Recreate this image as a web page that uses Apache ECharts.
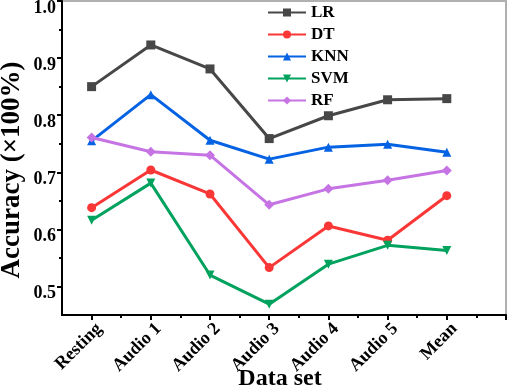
<!DOCTYPE html>
<html><head><meta charset="utf-8">
<script src="https://cdn.jsdelivr.net/npm/echarts@6/dist/echarts.min.js"></script>
<style>html,body{margin:0;padding:0;background:#fff}#c{width:512px;height:389px}</style>
</head><body><div id="c"></div>
<script>
const categories = ['Resting', 'Audio 1', 'Audio 2', 'Audio 3', 'Audio 4', 'Audio 5', 'Mean'];
const LR  = [0.850, 0.923, 0.881, 0.759, 0.799, 0.827, 0.829];
const DT  = [0.638, 0.704, 0.662, 0.533, 0.606, 0.581, 0.659];
const KNN = [0.755, 0.836, 0.756, 0.723, 0.744, 0.749, 0.735];
const SVM = [0.616, 0.681, 0.520, 0.469, 0.539, 0.572, 0.563];
const RF  = [0.761, 0.736, 0.730, 0.643, 0.671, 0.686, 0.703];
const yTicks = [0.5, 0.6, 0.7, 0.8, 0.9, 1.0];
const yMinor = [0.55, 0.65, 0.75, 0.85, 0.95];

const font = '"Liberation Serif", "Times New Roman", serif';
const xMajor = categories.map((c, i) => i + 1).concat([categories.length + 1]);
const xMinor = xMajor.map(v => v + 0.5).slice(0, -1);
const labelShift = 0.13;

function mk(name, vals, color, symbol, rotate) {
  return {
    name, type: 'line', data: vals.map((v, i) => [i + 1, v]),
    symbol, symbolSize: symbol === 'diamond' ? 10 : 9, symbolRotate: rotate || 0,
    lineStyle: { width: 3, color }, itemStyle: { color },
    xAxisIndex: 0, yAxisIndex: 0
  };
}

const chart = echarts.init(document.getElementById('c'));
chart.setOption({
  animation: false,
  grid: { left: 62, right: 6, top: 1, bottom: 74, show: true, borderColor: '#b0b0b0', borderWidth: 2, outerBoundsMode: 'none' },
  legend: {
    orient: 'vertical', left: 262, top: -1, itemWidth: 38, itemHeight: 10, itemGap: 5,
    textStyle: { fontFamily: font, fontWeight: 'bold', fontSize: 17, color: '#000' },
    data: ['LR', 'DT', 'KNN', 'SVM', 'RF']
  },
  xAxis: [{
    type: 'value', min: 0.5, max: 8,
    name: 'Data set', nameLocation: 'middle', nameGap: 52, nameMoveOverlap: false,
    nameTextStyle: { fontFamily: font, fontWeight: 'bold', fontSize: 24, color: '#000', padding: [0, 8, 0, 0] },
    axisLine: { lineStyle: { color: '#000', width: 2 } },
    axisTick: { customValues: xMajor, length: 5, lineStyle: { color: '#000', width: 2 } },
    axisLabel: {
      customValues: categories.map((c, i) => i + 1 + labelShift), rotate: 45, margin: 11,
      formatter: v => categories[Math.round(v) - 1] || '',
      fontFamily: font, fontWeight: 'bold', fontSize: 18, color: '#000'
    },
    splitLine: { show: false }
  }, {
    type: 'value', min: 0.5, max: 8, position: 'bottom',
    axisLine: { show: false },
    axisTick: { customValues: xMinor, length: 3, lineStyle: { color: '#000', width: 2 } },
    axisLabel: { show: false }, splitLine: { show: false }
  }],
  yAxis: [{
    type: 'value', min: 0.45, max: 1.0,
    name: 'Accuracy (×100%)', nameLocation: 'middle', nameGap: 36, nameMoveOverlap: false,
    nameTextStyle: { fontFamily: font, fontWeight: 'bold', fontSize: 27, color: '#000', padding: [0, 24, 0, 0] },
    axisLine: { lineStyle: { color: '#000', width: 2 } },
    axisTick: { customValues: yTicks, length: 5, lineStyle: { color: '#000', width: 2 } },
    axisLabel: {
      customValues: yTicks, margin: 6, verticalAlign: 'top', lineHeight: 14,
      formatter: v => v.toFixed(1),
      fontFamily: font, fontWeight: 'bold', fontSize: 18, color: '#000'
    },
    splitLine: { show: false }
  }, {
    type: 'value', min: 0.45, max: 1.0, position: 'left',
    axisLine: { show: false },
    axisTick: { customValues: yMinor, length: 3, lineStyle: { color: '#000', width: 2 } },
    axisLabel: { show: false }, splitLine: { show: false }
  }],
  series: [
    mk('LR', LR, '#474747', 'rect'),
    mk('DT', DT, '#fa3737', 'circle'),
    mk('KNN', KNN, '#0563e3', 'triangle'),
    mk('SVM', SVM, '#00a25e', 'triangle', 180),
    mk('RF', RF, '#c674e4', 'diamond')
  ]
});
</script></body></html>
